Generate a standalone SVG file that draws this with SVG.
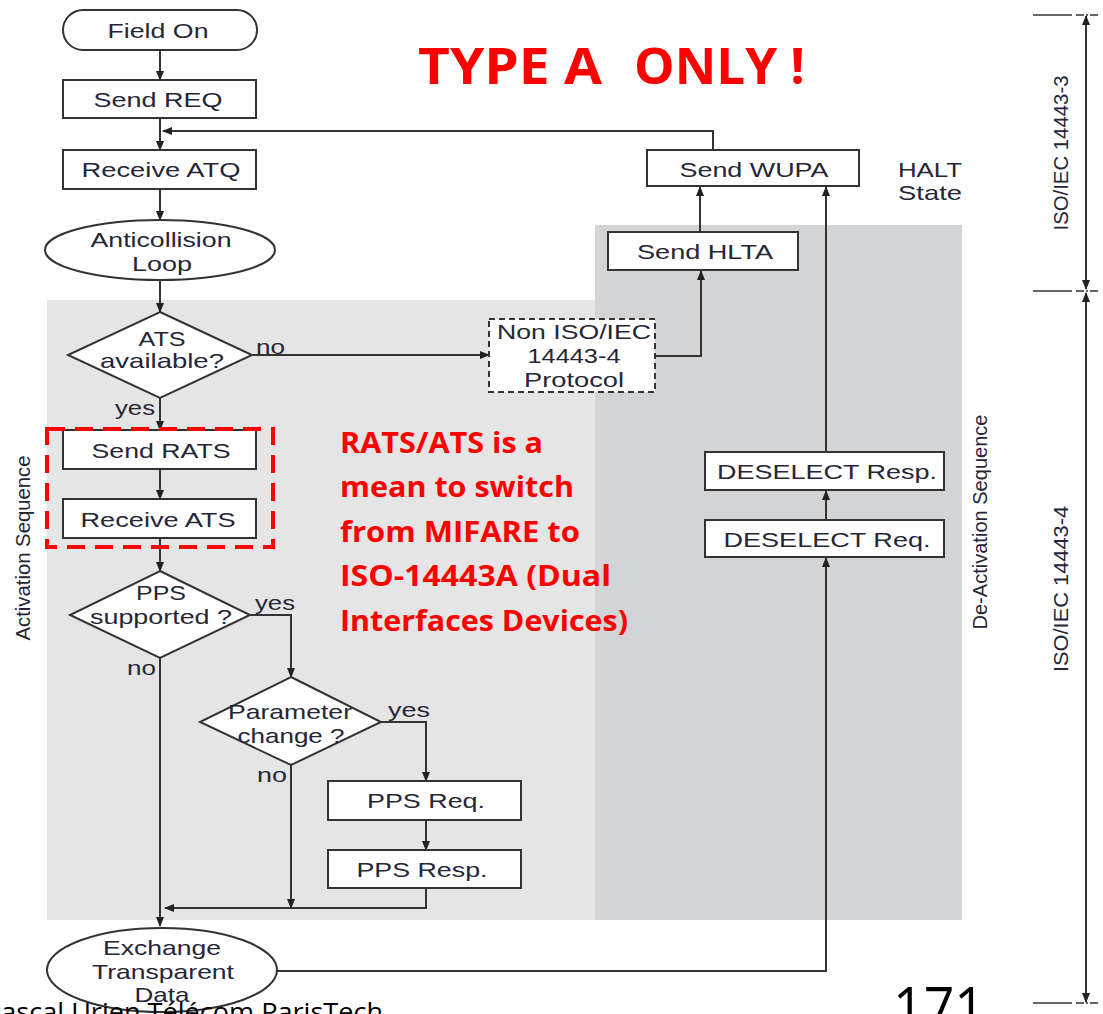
<svg xmlns="http://www.w3.org/2000/svg" width="1103" height="1014" viewBox="0 0 1103 1014">
<defs>
<marker id="ah" viewBox="0 0 10 10" refX="9" refY="5" markerWidth="10" markerHeight="10" markerUnits="userSpaceOnUse" orient="auto-start-reverse">
<path d="M0,1 L10,5 L0,9 z" fill="#222"/>
</marker>
<style>
.bx{fill:#fff;stroke:#333;stroke-width:2}
.t{font-family:"Liberation Sans",Arial,sans-serif;font-size:21px;fill:#262636;text-anchor:middle}
.lb{font-family:"Liberation Sans",Arial,sans-serif;font-size:21px;fill:#262636}
.ln{fill:none;stroke:#333;stroke-width:2}
.ar{fill:none;stroke:#333;stroke-width:2;marker-end:url(#ah)}
.red{font-family:"Open Sans","Liberation Sans",sans-serif;font-weight:bold;fill:#ff0000}
.thin{fill:none;stroke:#333;stroke-width:1.3}
</style>
</defs>
<rect x="0" y="0" width="1103" height="1014" fill="#fff"/>
<!-- regions -->
<rect x="47" y="300" width="553" height="620" fill="#e5e5e5"/>
<rect x="595" y="225" width="367" height="695" fill="#d3d4d6"/>

<text class="red" x="418" y="84" font-size="50" textLength="184" lengthAdjust="spacingAndGlyphs">TYPE A</text>
<text class="red" x="634" y="84" font-size="50" textLength="171" lengthAdjust="spacingAndGlyphs">ONLY !</text>

<!-- connectors -->
<g id="connectors">
<line class="ar" x1="160" y1="50" x2="160" y2="80"/>
<line class="ar" x1="160" y1="118" x2="160" y2="150"/>
<polyline class="ar" points="713,150 713,131 163,131"/>
<line class="ar" x1="160" y1="189" x2="160" y2="220"/>
<line class="ar" x1="160" y1="280" x2="160" y2="312"/>
<line class="ar" x1="252" y1="355" x2="489" y2="355"/>
<polyline class="ar" points="655,356 701,356 701,271"/>
<line class="ar" x1="700" y1="232" x2="700" y2="187"/>
<line class="ar" x1="160" y1="398" x2="160" y2="430"/>
<line class="ar" x1="160" y1="469" x2="160" y2="499"/>
<line class="ar" x1="160" y1="538" x2="160" y2="571"/>
<polyline class="ar" points="250,615 291,615 291,677"/>
<line class="ar" x1="160" y1="658" x2="160" y2="926"/>
<polyline class="ar" points="381,722 426,722 426,781"/>
<line class="ar" x1="426" y1="820" x2="426" y2="850"/>
<line class="ar" x1="291" y1="765" x2="291" y2="908"/>
<polyline class="ar" points="426,888 426,908 165,908"/>
<polyline class="ar" points="277,971 826,971 826,558"/>
<line class="ar" x1="826" y1="520" x2="826" y2="491"/>
<line class="ar" x1="826" y1="452" x2="826" y2="187"/>
</g>

<!-- labels -->
<text class="lb" x="256" y="354" textLength="29" lengthAdjust="spacingAndGlyphs">no</text>
<text class="lb" x="115" y="415" textLength="40" lengthAdjust="spacingAndGlyphs">yes</text>
<text class="lb" x="255" y="610" textLength="40" lengthAdjust="spacingAndGlyphs">yes</text>
<text class="lb" x="127" y="675" textLength="29" lengthAdjust="spacingAndGlyphs">no</text>
<text class="lb" x="388" y="717" textLength="42" lengthAdjust="spacingAndGlyphs">yes</text>
<text class="lb" x="257" y="782" textLength="30" lengthAdjust="spacingAndGlyphs">no</text>

<!-- nodes -->
<g id="field-on"><rect class="bx" x="63" y="10" width="194" height="40" rx="20"/><text class="t" x="158" y="38" textLength="101" lengthAdjust="spacingAndGlyphs">Field On</text></g>
<g id="send-req"><rect class="bx" x="63" y="80" width="193" height="38"/><text class="t" x="158" y="107" textLength="129" lengthAdjust="spacingAndGlyphs">Send REQ</text></g>
<g id="receive-atq"><rect class="bx" x="63" y="150" width="193" height="39"/><text class="t" x="161" y="177" textLength="159" lengthAdjust="spacingAndGlyphs">Receive ATQ</text></g>
<g id="anticollision"><ellipse class="bx" cx="160" cy="250" rx="115" ry="30"/><text class="t" x="161" y="247" textLength="141" lengthAdjust="spacingAndGlyphs">Anticollision</text><text class="t" x="162" y="271" textLength="60" lengthAdjust="spacingAndGlyphs">Loop</text></g>
<g id="ats-available"><polygon class="bx" points="160,312 252,355 160,398 68,355"/><text class="t" x="162" y="346" textLength="47" lengthAdjust="spacingAndGlyphs">ATS</text><text class="t" x="162" y="368" textLength="124" lengthAdjust="spacingAndGlyphs">available?</text></g>
<g id="non-iso"><rect x="489" y="319" width="166" height="73" fill="#fff" stroke="#333" stroke-width="2" stroke-dasharray="6,4"/><text class="t" x="574" y="339" textLength="154" lengthAdjust="spacingAndGlyphs">Non ISO/IEC</text><text class="t" x="574" y="363" textLength="93" lengthAdjust="spacingAndGlyphs">14443-4</text><text class="t" x="574" y="387" textLength="100" lengthAdjust="spacingAndGlyphs">Protocol</text></g>
<g id="send-hlta"><rect class="bx" x="608" y="232" width="190" height="38"/><text class="t" x="705" y="259" textLength="136" lengthAdjust="spacingAndGlyphs">Send HLTA</text></g>
<g id="send-wupa"><rect class="bx" x="647" y="150" width="212" height="36"/><text class="t" x="754" y="177" textLength="149" lengthAdjust="spacingAndGlyphs">Send WUPA</text></g>
<text class="lb" x="898" y="177" textLength="64" lengthAdjust="spacingAndGlyphs">HALT</text>
<text class="lb" x="898" y="200" textLength="64" lengthAdjust="spacingAndGlyphs">State</text>
<g id="send-rats"><rect class="bx" x="63" y="430" width="193" height="39"/><text class="t" x="161" y="458" textLength="139" lengthAdjust="spacingAndGlyphs">Send RATS</text></g>
<g id="receive-ats"><rect class="bx" x="63" y="499" width="193" height="39"/><text class="t" x="158" y="527" textLength="155" lengthAdjust="spacingAndGlyphs">Receive ATS</text></g>
<rect x="47" y="429" width="226" height="118" fill="none" stroke="#ff0000" stroke-width="4" stroke-dasharray="18,10"/>
<g id="pps-supported"><polygon class="bx" points="160,571 250,615 160,658 70,615"/><text class="t" x="161" y="600" textLength="50" lengthAdjust="spacingAndGlyphs">PPS</text><text class="t" x="161" y="624" textLength="142" lengthAdjust="spacingAndGlyphs">supported ?</text></g>
<g id="parameter-change"><polygon class="bx" points="291,677 381,722 291,765 200,722"/><text class="t" x="290" y="719" textLength="124" lengthAdjust="spacingAndGlyphs">Parameter</text><text class="t" x="291" y="743" textLength="107" lengthAdjust="spacingAndGlyphs">change ?</text></g>
<g id="pps-req"><rect class="bx" x="328" y="781" width="193" height="39"/><text class="t" x="426" y="808" textLength="118" lengthAdjust="spacingAndGlyphs">PPS Req.</text></g>
<g id="pps-resp"><rect class="bx" x="328" y="850" width="193" height="38"/><text class="t" x="422" y="877" textLength="131" lengthAdjust="spacingAndGlyphs">PPS Resp.</text></g>
<g id="exchange"><ellipse class="bx" cx="162" cy="970" rx="115" ry="42"/><text class="t" x="162" y="955" textLength="118" lengthAdjust="spacingAndGlyphs">Exchange</text><text class="t" x="163" y="979" textLength="142" lengthAdjust="spacingAndGlyphs">Transparent</text><text class="t" x="162" y="1002" textLength="55" lengthAdjust="spacingAndGlyphs">Data</text></g>
<g id="deselect-resp"><rect class="bx" x="705" y="452" width="239" height="38"/><text class="t" x="827" y="479" textLength="220" lengthAdjust="spacingAndGlyphs">DESELECT Resp.</text></g>
<g id="deselect-req"><rect class="bx" x="705" y="520" width="239" height="37"/><text class="t" x="827" y="547" textLength="207" lengthAdjust="spacingAndGlyphs">DESELECT Req.</text></g>

<text class="lb" transform="translate(30,548) rotate(-90)" text-anchor="middle" font-size="20" textLength="185" lengthAdjust="spacingAndGlyphs">Activation Sequence</text>
<text class="lb" transform="translate(987,522) rotate(-90)" text-anchor="middle" font-size="20" textLength="215" lengthAdjust="spacingAndGlyphs">De-Activation Sequence</text>

<!-- red note -->
<g class="red" font-size="29">
<text x="340" y="453" textLength="203" lengthAdjust="spacingAndGlyphs">RATS/ATS is a</text>
<text x="340" y="497" textLength="234" lengthAdjust="spacingAndGlyphs">mean to switch</text>
<text x="340" y="542" textLength="240" lengthAdjust="spacingAndGlyphs">from MIFARE to</text>
<text x="340" y="586" textLength="271" lengthAdjust="spacingAndGlyphs">ISO-14443A (Dual</text>
<text x="340" y="631" textLength="288" lengthAdjust="spacingAndGlyphs">Interfaces Devices)</text>
</g>

<!-- right scale -->
<line class="thin" x1="1033" y1="15" x2="1072" y2="15"/>
<line class="thin" x1="1076" y1="15" x2="1100" y2="15" stroke-dasharray="8,2,2,2"/>
<line class="thin" x1="1033" y1="291" x2="1072" y2="291"/>
<line class="thin" x1="1076" y1="291" x2="1100" y2="291" stroke-dasharray="8,2,2,2"/>
<line class="thin" x1="1033" y1="1003" x2="1072" y2="1003"/>
<line class="thin" x1="1076" y1="1003" x2="1100" y2="1003" stroke-dasharray="8,2,2,2"/>
<line x1="1086" y1="16" x2="1086" y2="289" stroke="#333" stroke-width="2" marker-start="url(#ah)" marker-end="url(#ah)"/>
<line x1="1086" y1="293" x2="1086" y2="1002" stroke="#333" stroke-width="2" marker-start="url(#ah)" marker-end="url(#ah)"/>
<text class="lb" transform="translate(1068,153) rotate(-90)" text-anchor="middle" font-size="19" textLength="155" lengthAdjust="spacingAndGlyphs">ISO/IEC 14443-3</text>
<text class="lb" transform="translate(1068,589) rotate(-90)" text-anchor="middle" font-size="19" textLength="166" lengthAdjust="spacingAndGlyphs">ISO/IEC 14443-4</text>

<!-- footer -->
<text x="-15" y="1021" font-family="'Open Sans','Liberation Sans',sans-serif" font-size="26" fill="#000" textLength="398" lengthAdjust="spacingAndGlyphs">Pascal Urien Télécom ParisTech</text>
<text x="893" y="1028" font-family="'Open Sans','Liberation Sans',sans-serif" font-size="57" fill="#000" textLength="92" lengthAdjust="spacingAndGlyphs">171</text>
</svg>
